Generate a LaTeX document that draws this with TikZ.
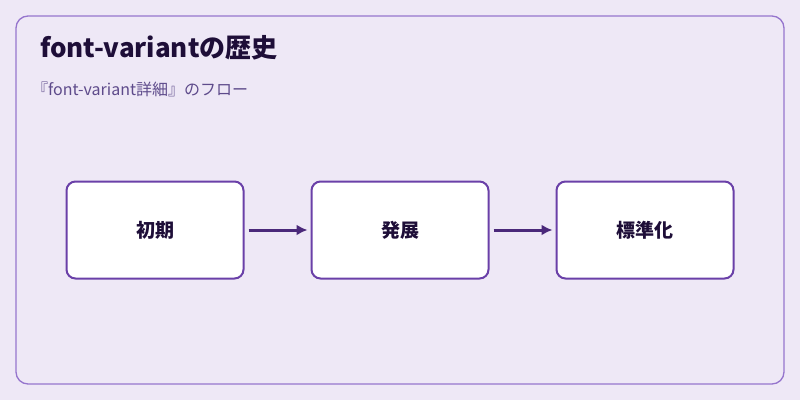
\documentclass[tikz,border=0pt]{standalone}
\usepackage{fontspec}
\setmainfont{Noto Sans CJK JP}
\usetikzlibrary{positioning,arrows.meta}
\definecolor{bgc}{RGB}{238,232,246}
\definecolor{framec}{RGB}{149,117,205}
\definecolor{boxc}{RGB}{106,64,168}
\definecolor{arrowc}{RGB}{74,40,122}
\definecolor{titlec}{RGB}{30,14,56}
\definecolor{subc}{RGB}{94,75,139}
\tikzset{
  stage/.style={draw=boxc, line width=2pt, fill=white, rounded corners=9pt,
    minimum width=177pt, minimum height=97pt, font=\fontsize{19}{22}\selectfont\bfseries, text=titlec},
  flow/.style={draw=arrowc, line width=3pt, -{Latex[length=11pt,width=11pt]}}
}
\begin{document}
\begin{tikzpicture}[x=1pt,y=-1pt]
\useasboundingbox (0,0) rectangle (800,400);
%background and frame
\fill[bgc] (0,0) rectangle (800,400);
\draw[framec, line width=1.3pt, rounded corners=12pt] (16,16) rectangle (784,384);
%title texts
\node[anchor=west, inner sep=0pt, text=titlec, font=\fontsize{26}{30}\selectfont\bfseries] (title) at (40,48) {font-variantの歴史};
\node[anchor=west, inner sep=0pt, text=subc, font=\fontsize{16}{19}\selectfont] (subtitle) at (32,89) {『font-variant詳細』のフロー};
%stages
\node[stage] (early) at (155,230) {初期};
\node[stage] (growth) at (400,230) {発展};
\node[stage] (standard) at (645,230) {標準化};
%connectors
\draw[flow] ([xshift=4pt]early.east) -- ([xshift=-3pt]growth.west);
\draw[flow] ([xshift=4pt]growth.east) -- ([xshift=-3pt]standard.west);
\end{tikzpicture}
\end{document}
